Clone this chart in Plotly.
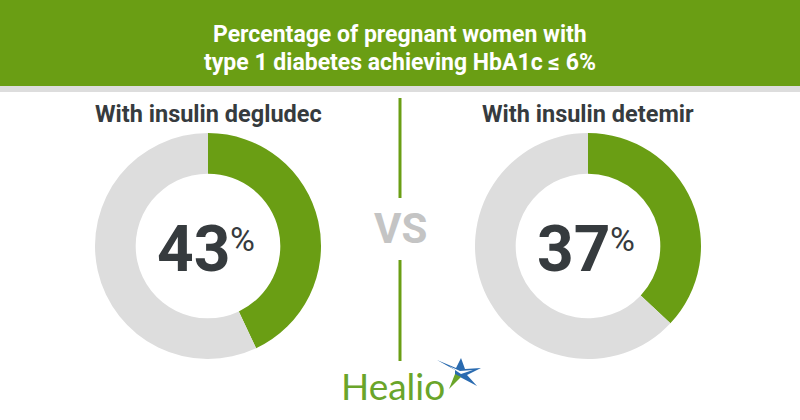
import plotly.graph_objects as go

# Data
groups = ["With insulin degludec", "With insulin detemir"]
achieving = [43, 37]
title_lines = ["Percentage of pregnant women with", "type 1 diabetes achieving HbA1c \u2264 6%"]

W, H = 800, 420
GREEN = "#6a9e14"
GRAY = "#dddddd"
DARK = "#363b3e"

def px(x):
    return x / W

def py(y):
    return 1 - y / H

centers = [208, 588]
cy = 246
R = 113

fig = go.Figure()
for i, (g, v) in enumerate(zip(groups, achieving)):
    cx = centers[i]
    fig.add_trace(go.Pie(
        values=[v, 100 - v],
        labels=["Achieved", "Not achieved"],
        marker=dict(colors=[GREEN, GRAY], line=dict(width=0)),
        hole=0.64,
        sort=False,
        direction="clockwise",
        rotation=0,
        textinfo="none",
        hoverinfo="skip",
        showlegend=False,
        domain=dict(x=[px(cx - R), px(cx + R)], y=[py(cy + R), py(cy - R)]),
    ))

shapes = [
    dict(type="rect", xref="paper", yref="paper", x0=0, x1=1, y0=py(86), y1=1,
         fillcolor=GREEN, line=dict(width=0), layer="below"),
    dict(type="rect", xref="paper", yref="paper", x0=0, x1=1, y0=py(92), y1=py(86),
         fillcolor=GRAY, line=dict(width=0), layer="below"),
    dict(type="line", xref="paper", yref="paper", x0=px(400), x1=px(400), y0=py(98), y1=py(198),
         line=dict(color=GREEN, width=3)),
    dict(type="line", xref="paper", yref="paper", x0=px(400), x1=px(400), y0=py(260), y1=py(361),
         line=dict(color=GREEN, width=3)),
]

# Healio star mark (decorative)
def path(points):
    return "M " + " L ".join(f"{px(a):.5f},{py(b):.5f}" for a, b in points) + " Z"

sx, sy = 459, 372
star = [(sx - 22, sy - 12), (sx - 3, sy - 4), (sx + 2, sy - 14), (sx + 6, sy - 3),
        (sx + 22, sy - 4), (sx + 8, sy + 3), (sx + 18, sy + 14), (sx + 1, sy + 5),
        (sx - 4, sy + 6), (sx - 4, sy - 2)]
shapes.append(dict(type="path", xref="paper", yref="paper", path=path(star),
                   fillcolor="#2a6bb0", line=dict(width=0)))
green_tip = [(sx - 4, sy + 2), (sx + 2, sy + 5), (sx - 10, sy + 17)]
shapes.append(dict(type="path", xref="paper", yref="paper", path=path(green_tip),
                   fillcolor="#6aa52a", line=dict(width=0)))
spark = [(sx - 10, sy - 6), (sx + 1, sy - 1), (sx + 14, sy - 2), (sx + 2, sy + 2)]
shapes.append(dict(type="path", xref="paper", yref="paper", path=path(spark),
                   fillcolor="#ffffff", line=dict(width=0)))

ann = []
TITLE_FONT = "Roboto, sans-serif"

def A(x, y, text, size, color, weight="bold", family="Roboto, sans-serif", xanchor="center"):
    ann.append(dict(x=px(x), y=py(y), xref="paper", yref="paper", text=text, showarrow=False,
                    xanchor=xanchor, yanchor="middle",
                    font=dict(family=family, size=size, color=color, weight=weight)))

A(400, 34, title_lines[0], 23, "white", family=TITLE_FONT)
A(400, 62, title_lines[1], 23, "white", family=TITLE_FONT)

for i, (g, v) in enumerate(zip(groups, achieving)):
    cx = centers[i]
    A(cx, 114, g, 23.5, DARK)
    A(cx + 24, 249, str(v), 64, DARK, xanchor="right")
    A(cx + 20, 239, "%", 34, DARK, weight="normal", xanchor="left")

A(400, 229, "VS", 42, "#c4c4c4")
A(393, 385, "Healio", 37, "#6aa52a", weight="normal", family="Lato, sans-serif")

fig.update_layout(
    width=W, height=H,
    margin=dict(l=0, r=0, t=0, b=0),
    paper_bgcolor="white", plot_bgcolor="white",
    shapes=shapes, annotations=ann,
)

fig.write_html("out.html")
